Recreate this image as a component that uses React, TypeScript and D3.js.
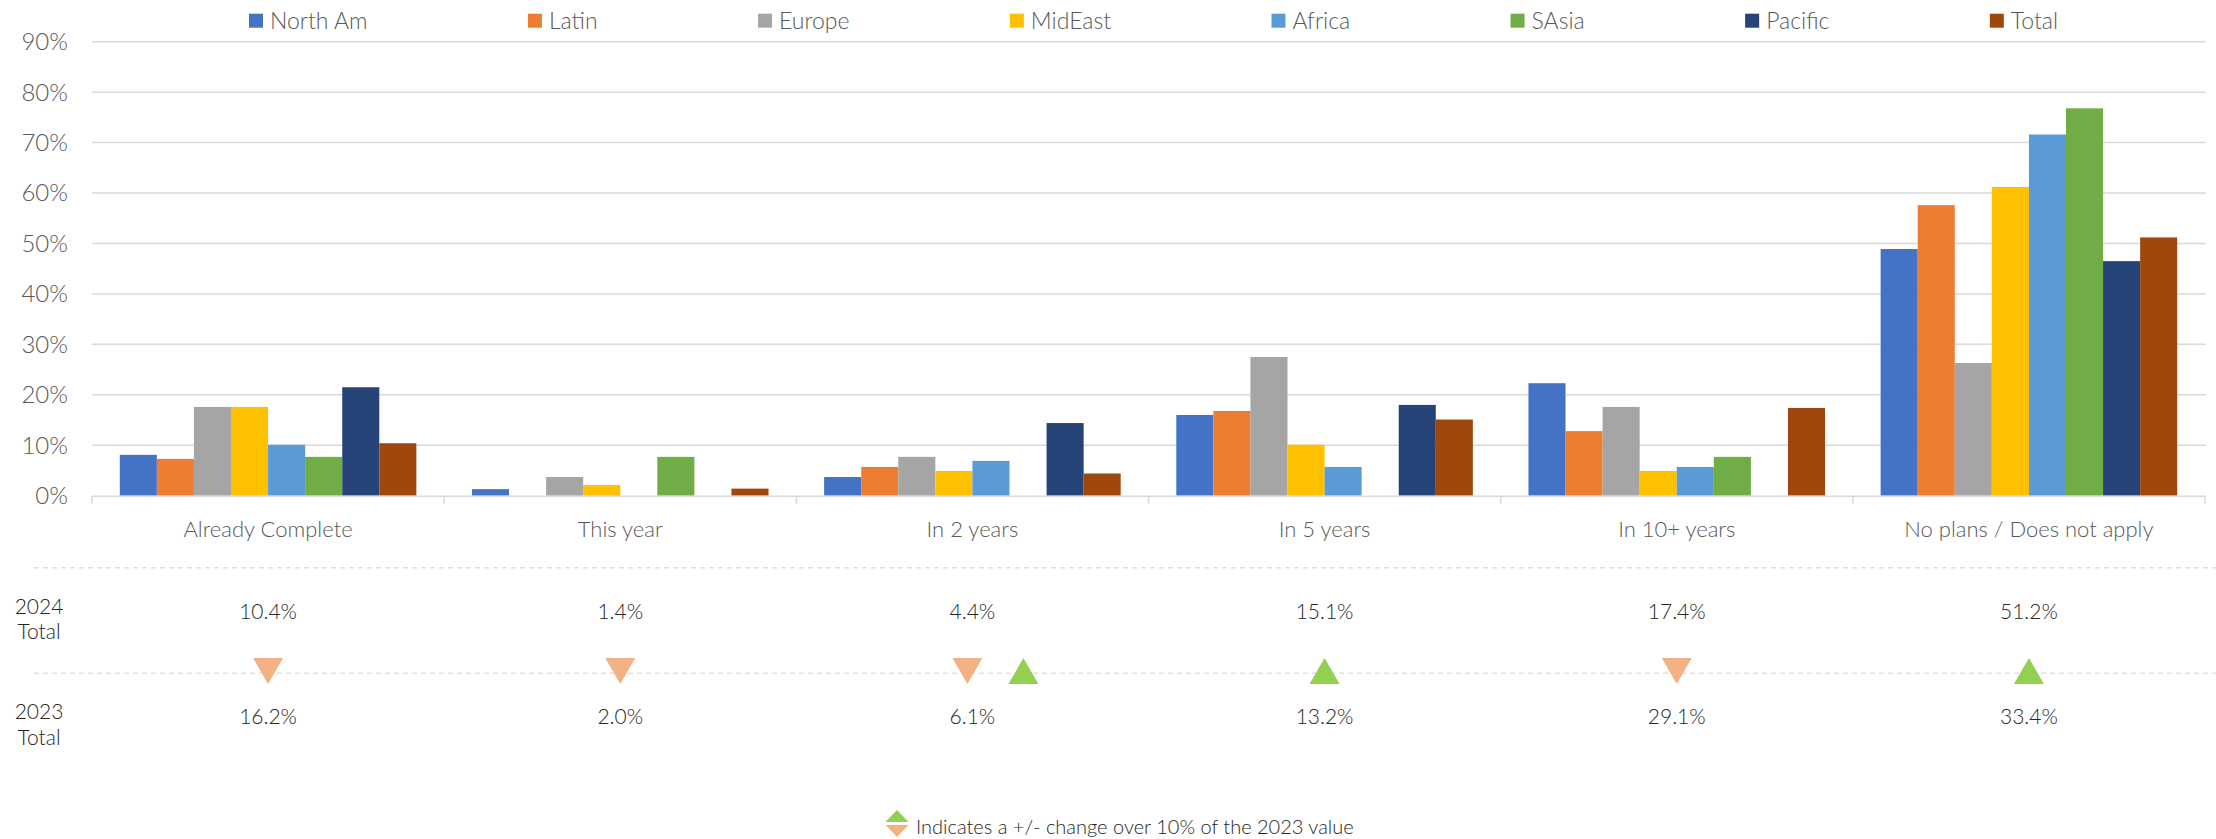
import React, { useEffect, useRef } from "react";
import * as d3 from "d3";

const categories = ["Already Complete", "This year", "In 2 years", "In 5 years", "In 10+ years", "No plans / Does not apply"];
const seriesNames = ["North Am", "Latin", "Europe", "MidEast", "Africa", "SAsia", "Pacific", "Total"];
const seriesColors = ["#4472c4", "#ed7d31", "#a5a5a5", "#ffc000", "#5b9bd5", "#70ad47", "#264478", "#9e480e"];

const northAm = [8.1, 1.3, 3.7, 16.0, 22.3, 48.9];
const latin = [7.3, 0, 5.7, 16.8, 12.8, 57.6];
const europe = [17.6, 3.7, 7.7, 27.5, 17.6, 26.3];
const midEast = [17.6, 2.1, 4.9, 10.1, 4.9, 61.2];
const africa = [10.1, 0, 6.9, 5.7, 5.7, 71.6];
const sAsia = [7.7, 7.7, 0, 0, 7.7, 76.8];
const pacific = [21.5, 0, 14.4, 18.0, 0, 46.5];
const total = [10.4, 1.4, 4.4, 15.1, 17.4, 51.2];
const seriesValues = [northAm, latin, europe, midEast, africa, sAsia, pacific, total];

const total2024 = ["10.4%", "1.4%", "4.4%", "15.1%", "17.4%", "51.2%"];
const total2023 = ["16.2%", "2.0%", "6.1%", "13.2%", "29.1%", "33.4%"];
const changeArrows: string[][] = [["down"], ["down"], ["down", "up"], ["up"], ["down"], ["up"]];

const yTicks = [0, 10, 20, 30, 40, 50, 60, 70, 80, 90];

const W = 2216;
const H = 839;
const FONT = "Lato, 'Open Sans', sans-serif";
const WEIGHT = 300;

export default function App() {
  const ref = useRef<SVGSVGElement | null>(null);

  useEffect(() => {
    const svg = d3.select(ref.current);
    svg.selectAll("*").remove();

    const left = 92, right = 2205, top = 41.7, bottom = 495.7;
    const y = d3.scaleLinear().domain([0, 90]).range([bottom, top]);
    const x0 = d3.scaleBand<string>().domain(categories).range([left, right]).paddingInner(0).paddingOuter(0);
    const x1 = d3.scaleBand<string>().domain(seriesNames).range([0, x0.bandwidth()]).paddingInner(0).paddingOuter(0.75);

    // gridlines
    svg.append("g").selectAll("line").data(yTicks.filter((t) => t > 0)).join("line")
      .attr("x1", left).attr("x2", right + 1)
      .attr("y1", (d) => y(d)).attr("y2", (d) => y(d))
      .attr("stroke", "#d9d9d9").attr("stroke-width", 1.5);

    // y labels
    svg.append("g").selectAll("text").data(yTicks).join("text")
      .attr("x", 68).attr("y", (d) => y(d)).attr("dy", "0.35em")
      .attr("text-anchor", "end").attr("font-family", FONT).attr("font-size", 24).attr("font-weight", WEIGHT)
      .attr("fill", "#595959").text((d) => `${d}%`);

    // bars
    const groups = svg.append("g").selectAll("g").data(categories).join("g")
      .attr("transform", (c) => `translate(${x0(c)},0)`);
    groups.selectAll("rect")
      .data((c, ci) => seriesNames.map((s, si) => ({ s, si, v: seriesValues[si][ci] })))
      .join("rect")
      .attr("x", (d) => x1(d.s)!)
      .attr("width", x1.bandwidth())
      .attr("y", (d) => y(d.v))
      .attr("height", (d) => y(0) - y(d.v))
      .attr("fill", (d) => seriesColors[d.si]);

    // x axis line + ticks
    svg.append("line").attr("x1", left).attr("x2", right + 1).attr("y1", bottom + 0.5).attr("y2", bottom + 0.5)
      .attr("stroke", "#d9d9d9").attr("stroke-width", 1.5);
    const bounds = categories.map((c) => x0(c)!).concat([right]);
    svg.append("g").selectAll("line").data(bounds).join("line")
      .attr("x1", (d) => d).attr("x2", (d) => d).attr("y1", bottom).attr("y2", bottom + 8)
      .attr("stroke", "#d9d9d9").attr("stroke-width", 1.5);

    // category labels
    svg.append("g").selectAll("text").data(categories).join("text")
      .attr("x", (c) => x0(c)! + x0.bandwidth() / 2).attr("y", 529).attr("dy", "0.35em")
      .attr("text-anchor", "middle").attr("font-family", FONT).attr("font-size", 22).attr("font-weight", WEIGHT)
      .attr("fill", "#595959").text((c) => c);

    // dashed separators
    [567.7, 673.3].forEach((yy) => {
      svg.append("line").attr("x1", 34).attr("x2", W).attr("y1", yy).attr("y2", yy)
        .attr("stroke", "#e0e0e0").attr("stroke-width", 1.5).attr("stroke-dasharray", "5,4");
    });

    // row labels
    const rowLabel = (lines: string[], ys: number[]) => {
      lines.forEach((t, i) => {
        svg.append("text").attr("x", 39).attr("y", ys[i]).attr("dy", "0.35em")
          .attr("text-anchor", "middle").attr("font-family", FONT).attr("font-size", 21).attr("font-weight", WEIGHT)
          .attr("fill", "#262626").text(t);
      });
    };
    rowLabel(["2024", "Total"], [606.7, 632]);
    rowLabel(["2023", "Total"], [712, 738]);

    // totals rows
    svg.append("g").selectAll("text").data(total2024).join("text")
      .attr("x", (d, i) => x0(categories[i])! + x0.bandwidth() / 2).attr("y", 612)
      .attr("dy", "0.35em").attr("text-anchor", "middle").attr("font-family", FONT).attr("font-weight", WEIGHT)
      .attr("font-size", 21).attr("fill", "#262626").text((d) => d);
    svg.append("g").selectAll("text").data(total2023).join("text")
      .attr("x", (d, i) => x0(categories[i])! + x0.bandwidth() / 2).attr("y", 717)
      .attr("dy", "0.35em").attr("text-anchor", "middle").attr("font-family", FONT).attr("font-weight", WEIGHT)
      .attr("font-size", 21).attr("fill", "#262626").text((d) => d);

    // change arrows
    const triW = 30, triH = 26, triTop = 658;
    const tri = (cx: number, yTop: number, w: number, h: number, dir: string) =>
      dir === "up"
        ? `M${cx},${yTop} L${cx + w / 2},${yTop + h} L${cx - w / 2},${yTop + h} Z`
        : `M${cx - w / 2},${yTop} L${cx + w / 2},${yTop} L${cx},${yTop + h} Z`;
    const arrowData: { cx: number; dir: string }[] = [];
    changeArrows.forEach((arr, i) => {
      const c = x0(categories[i])! + x0.bandwidth() / 2;
      arr.forEach((dir, k) => {
        const cx = arr.length === 1 ? c : c - 5 + k * 56;
        arrowData.push({ cx, dir });
      });
    });
    svg.append("g").selectAll("path").data(arrowData).join("path")
      .attr("d", (d) => tri(d.cx, triTop, triW, triH, d.dir))
      .attr("fill", (d) => (d.dir === "up" ? "#92d050" : "#f4b183"));

    // footer legend
    svg.append("path").attr("d", tri(897, 810, 23, 12, "up")).attr("fill", "#92d050");
    svg.append("path").attr("d", tri(897, 825, 23, 12, "down")).attr("fill", "#f4b183");
    svg.append("text").attr("x", 916).attr("y", 827).attr("dy", "0.35em")
      .attr("font-family", FONT).attr("font-size", 20).attr("font-weight", WEIGHT).attr("fill", "#262626")
      .text("Indicates a +/- change over 10% of the 2023 value");

    // top legend
    const leg = svg.append("g");
    const items = leg.selectAll("g").data(seriesNames).join("g");
    items.append("rect").attr("width", 14).attr("height", 14).attr("y", 13.7)
      .attr("fill", (d, i) => seriesColors[i]);
    const texts = items.append("text").attr("x", 21).attr("y", 20.7).attr("dy", "0.35em")
      .attr("font-family", FONT).attr("font-size", 23).attr("font-weight", WEIGHT).attr("fill", "#595959").text((d) => d);
    const widths: number[] = [];
    texts.each(function () { widths.push((this as SVGTextElement).getComputedTextLength()); });
    const legStart = 249, legEnd = 2058;
    const sumW = d3.sum(widths.map((w) => 21 + w));
    const gap = (legEnd - legStart - sumW) / (seriesNames.length - 1);
    let xPos = legStart;
    items.attr("transform", (d, i) => {
      const t = `translate(${xPos},0)`;
      xPos += 21 + widths[i] + gap;
      return t;
    });
  }, []);

  return (
    <div style={{ position: "absolute", left: 0, top: 0 }}>
      <svg ref={ref} width={W} height={H} style={{ display: "block", background: "#fff" }} />
    </div>
  );
}
